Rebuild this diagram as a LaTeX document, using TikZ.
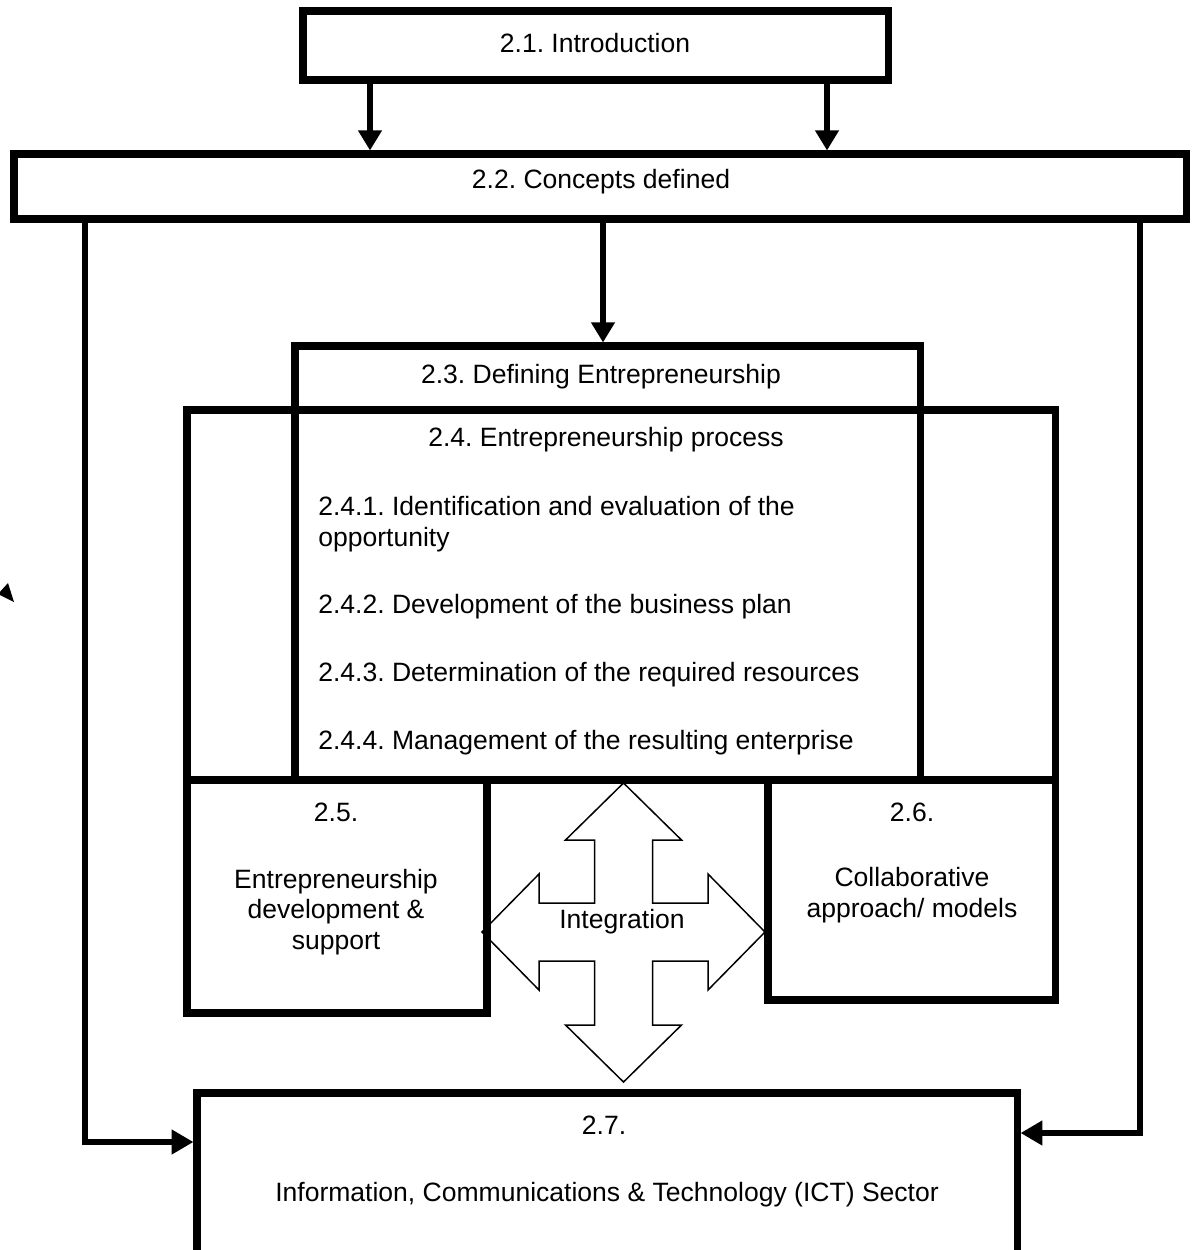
\documentclass[tikz,border=0pt]{standalone}
\usepackage{fontspec}
\setmainfont{Liberation Sans}
\usetikzlibrary{arrows.meta}

% box from (x1,y1) to (x2,y2), measured on the border's centre line
\newcommand\mkbox[5]{%
  \node[frame, minimum width={(#4-#2)*0.02cm}, minimum height={(#5-#3)*0.02cm}]
    (#1) at ({(#2+#4)/2},{(#3+#5)/2}) {};}

\tikzset{
  frame/.style={draw, line width=4pt, inner sep=0pt},
  conn/.style={line width=3.5pt, -{Triangle[length=11.5pt, width=13pt]}},
  sideconn/.style={line width=3.5pt, -{Triangle[length=12.5pt, width=13.5pt]}},
  txt/.style={font=\fontsize{15.1}{17.5}\selectfont\frenchspacing, inner sep=0pt},
  bigarrow/.style={draw, fill=white, line width=0.85pt, line join=miter},
}

\begin{document}
\begin{tikzpicture}[x=0.02cm, y=-0.02cm]
\useasboundingbox (0,0) rectangle (1200,1250);
\clip (0,0) rectangle (1200,1250);

% four-headed "Integration" arrow
\draw[bigarrow]
  (623.5,783) -- (681.5,840) -- (652.5,840) -- (652.5,903) -- (708,903)
  -- (708,874) -- (765,932) -- (708,990) -- (708,961) -- (652.5,961)
  -- (652.5,1025) -- (681.5,1025) -- (623.5,1082) -- (565.5,1025)
  -- (594.5,1025) -- (594.5,961) -- (539,961) -- (539,990) -- (482,932)
  -- (539,874) -- (539,903) -- (594.5,903) -- (594.5,840) -- (565.5,840)
  -- cycle;

% boxes
\mkbox{b21}{303}{11}{888}{80}
\mkbox{b22}{14}{154}{1186}{219}
\mkbox{b23}{295}{346}{920}{780}
\mkbox{b24}{187}{410}{1055}{780}
\mkbox{b25}{187}{780}{487}{1013}
\mkbox{b26}{768}{780}{1055}{1000}
\mkbox{b27}{197}{1093}{1017}{1280}

% texts
\node[txt] (t21) at (595,43) {2.1. Introduction};
\node[txt] (t22) at (601,182) {2.2. Concepts defined};
\node[txt] (t23) at (601,377) {2.3. Defining Entrepreneurship};
\node[txt] (t24) at (606,440) {2.4. Entrepreneurship process};
\node[txt, anchor=west, align=left] (t241) at (318,524)
  {2.4.1. Identification and evaluation of the\\opportunity};
\node[txt, anchor=west] (t242) at (318,607) {2.4.2. Development of the business plan};
\node[txt, anchor=west] (t243) at (318,675) {2.4.3. Determination of the required resources};
\node[txt, anchor=west] (t244) at (318,743) {2.4.4. Management of the resulting enterprise};
\node[txt] (t25) at (336,812) {2.5.};
\node[txt, align=center] (t25b) at (336,912)
  {Entrepreneurship\\development \&\\support};
\node[txt] (t26) at (912,812) {2.6.};
\node[txt, align=center] (t26b) at (912,895) {Collaborative\\approach/ models};
\node[txt] (tint) at (622,922) {Integration};
\node[txt] (t27) at (604,1125) {2.7.};
\node[txt] (t27b) at (607,1195)
  {Information, Communications \& Technology (ICT) Sector};

% connector columns and rows
\coordinate (cA) at (370,0);
\coordinate (cB) at (827,0);
\coordinate (cC) at (603,0);
\coordinate (cL) at (85,1142);
\coordinate (cR) at (1140,1133);

% connectors
\draw[conn] (cA |- b21.south) -- (cA |- b22.north);
\draw[conn] (cB |- b21.south) -- (cB |- b22.north);
\draw[conn] (cC |- b22.south) -- (cC |- b23.north);
\draw[sideconn] (cL |- b22.south) -- (cL) -- (b27.west |- cL);
\draw[sideconn] (cR |- b22.south) -- (cR) -- (b27.east |- cR);

% small loose arrow tip at the left edge
\fill (8,583) -- (-2,594) -- (14,602) -- cycle;
\end{tikzpicture}
\end{document}
